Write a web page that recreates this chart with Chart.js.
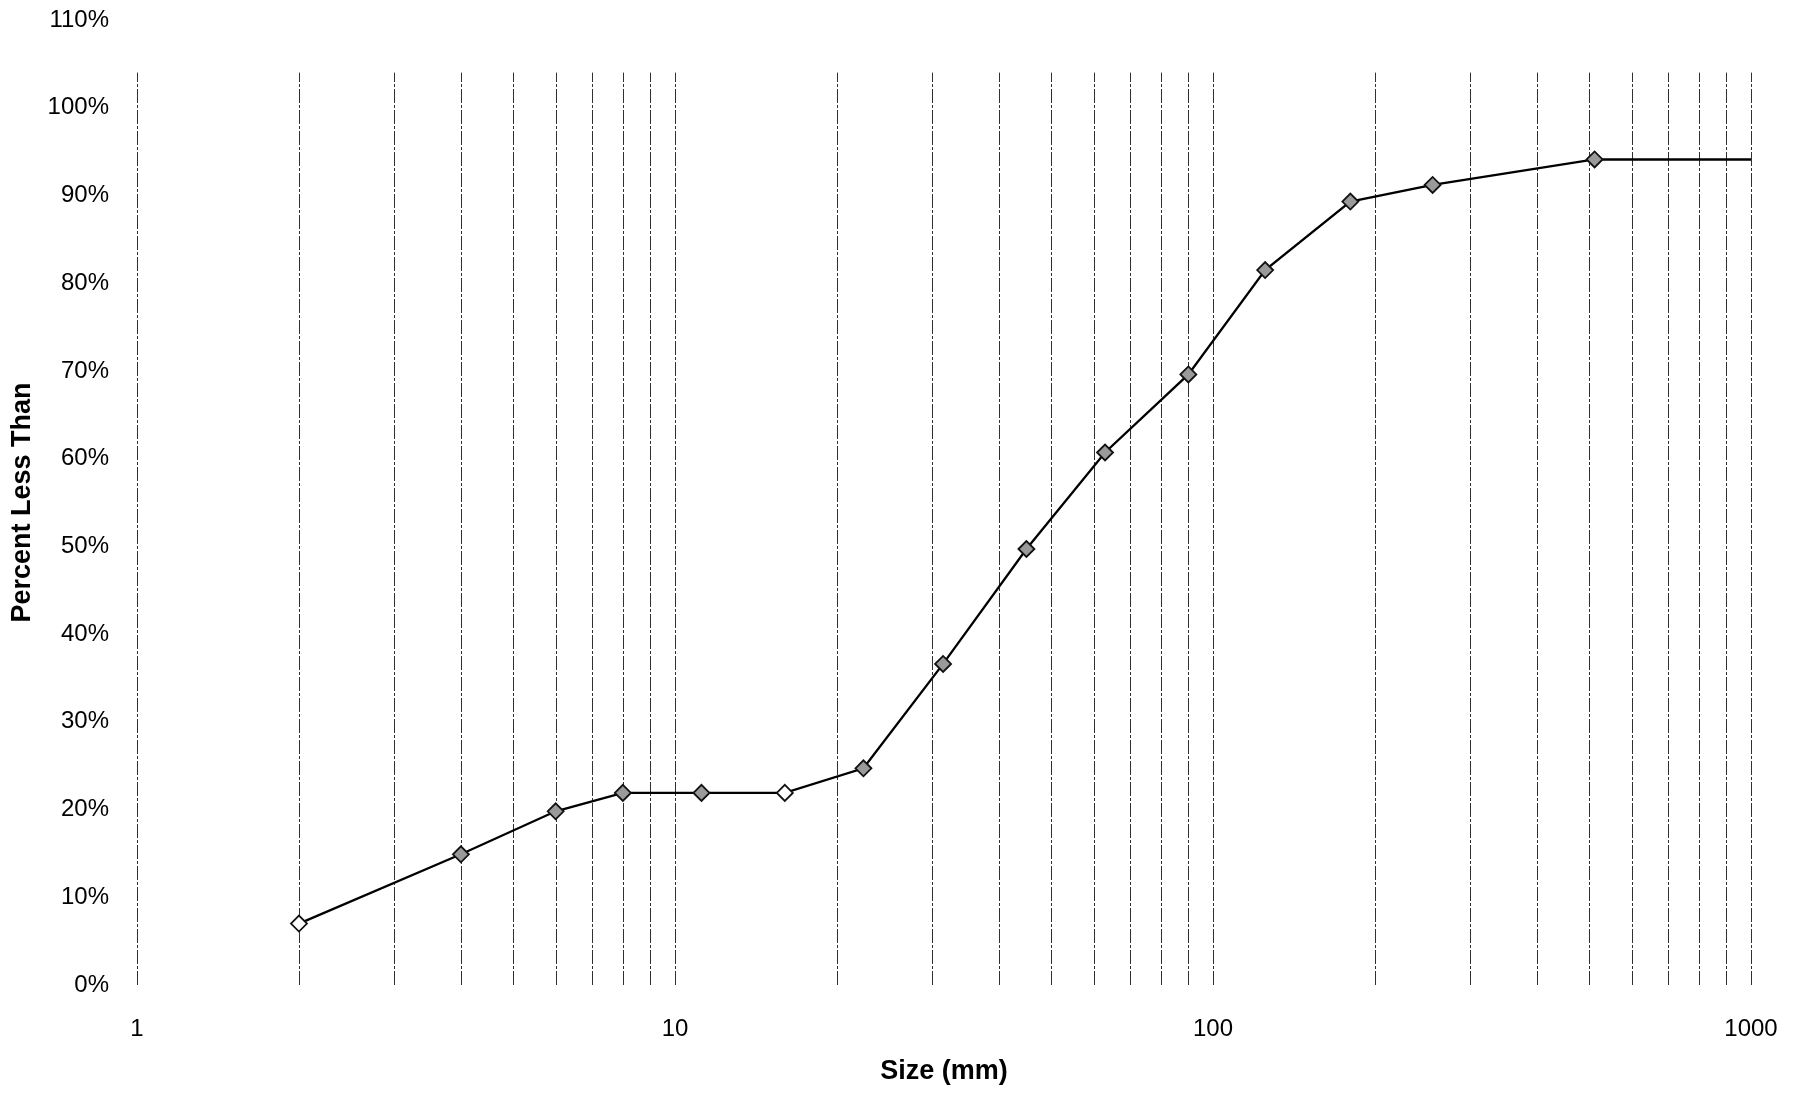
<!DOCTYPE html>
<html>
<head>
<meta charset="utf-8">
<script src="https://cdn.jsdelivr.net/npm/chart.js@4.4.1/dist/chart.umd.min.js"></script>
<style>
  html, body { margin: 0; padding: 0; background: #fff; }
  #wrap { width: 1801px; height: 1095px; }
</style>
</head>
<body>
<div id="wrap"><canvas id="c" width="1801" height="1095"></canvas></div>
<script>
// ---- Data ----
const sizes    = [2, 4, 6, 8, 11.2, 16, 22.4, 31.5, 45, 63, 90, 125, 180, 256, 512, 1000];
const percents = [7.0, 14.9, 19.8, 21.9, 21.9, 21.9, 24.7, 36.6, 49.7, 60.7, 69.6, 81.5, 89.3, 91.2, 94.1, 94.1];

// ---- Axis ticks ----
const xGridValues = [1, 2, 3, 4, 5, 6, 7, 8, 9,
                     10, 20, 30, 40, 50, 60, 70, 80, 90,
                     100, 200, 300, 400, 500, 600, 700, 800, 900,
                     1000];
const xLabels = [1, 10, 100, 1000];
const yTicks  = [0, 10, 20, 30, 40, 50, 60, 70, 80, 90, 100, 110];

const FONT = "'Liberation Sans', Arial, Helvetica, sans-serif";
const GRID_TOP = 104;

const vGridPlugin = {
  id: 'vgrid',
  beforeDatasetsDraw(chart) {
    const { ctx, scales: { x, y } } = chart;
    ctx.save();
    ctx.strokeStyle = 'rgba(25,25,25,0.9)';
    ctx.lineWidth = 1;
    ctx.setLineDash([14, 2, 3, 2]);
    const yTop = y.getPixelForValue(GRID_TOP);
    const yBot = y.getPixelForValue(0);
    x.ticks.forEach(t => {
      const px = Math.round(x.getPixelForValue(t.value)) + 0.5;
      ctx.beginPath();
      ctx.moveTo(px, yBot);
      ctx.lineTo(px, yTop);
      ctx.stroke();
    });
    ctx.restore();
  }
};

new Chart(document.getElementById('c'), {
  type: 'line',
  data: {
    datasets: [{
      data: sizes.map((s, i) => ({ x: s, y: percents[i] })),
      borderColor: '#000',
      borderWidth: 2.3,
      tension: 0,
      fill: false,
      pointStyle: 'rectRot',
      pointRadius: c => (c.dataIndex === sizes.length - 1 ? 0 : 8),
      pointBorderWidth: 1.8,
      pointBorderColor: '#111',
      pointBackgroundColor: c => (c.dataIndex === 0 || c.dataIndex === 5) ? '#fff' : '#9a9a9a'
    }]
  },
  options: {
    responsive: false,
    animation: false,
    devicePixelRatio: 1,
    layout: { padding: { top: 20, right: 50, left: 0, bottom: 0 } },
    plugins: { legend: { display: false }, tooltip: { enabled: false } },
    scales: {
      x: {
        type: 'logarithmic',
        position: 'bottom',
        min: 1,
        max: 1000,
        grid: { display: false },
        border: { display: false },
        afterBuildTicks: s => { s.ticks = xGridValues.map(v => ({ value: v })); },
        ticks: {
          autoSkip: false,
          maxRotation: 0,
          padding: 22,
          color: '#000',
          font: { family: FONT, size: 24 },
          callback: v => (xLabels.includes(v) ? String(v) : '')
        },
        title: {
          display: true,
          text: 'Size (mm)',
          color: '#000',
          font: { family: FONT, size: 27, weight: 'bold' },
          padding: { top: 0, bottom: 7 }
        },
        afterFit: s => { s.height = 110; s.paddingLeft = 0; s.paddingRight = 0; }
      },
      y: {
        min: 0,
        max: 110,
        afterBuildTicks: s => { s.ticks = yTicks.map(v => ({ value: v })); },
        grid: { display: false },
        border: { display: false },
        ticks: {
          padding: 20,
          color: '#000',
          font: { family: FONT, size: 24 },
          callback: v => v + '%'
        },
        title: {
          display: true,
          text: 'Percent Less Than',
          color: '#000',
          font: { family: FONT, size: 27, weight: 'bold' },
          padding: { top: 6, bottom: 0 }
        },
        afterFit: s => { s.width = 137; s.paddingTop = 0; s.paddingBottom = 0; }
      }
    }
  },
  plugins: [vGridPlugin]
});
</script>
</body>
</html>
